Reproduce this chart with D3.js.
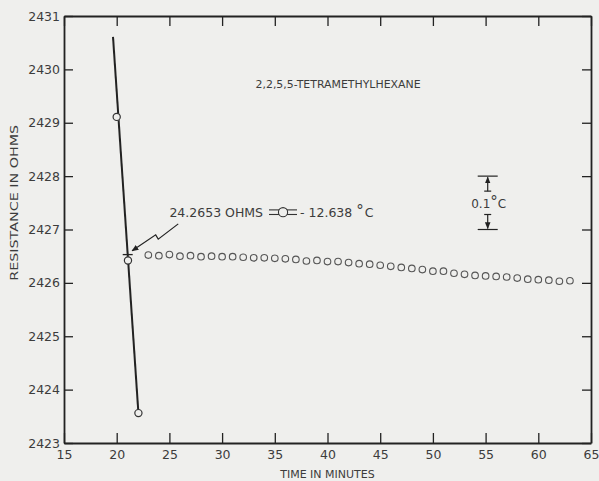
<!DOCTYPE html>
<html>
<head>
<meta charset="utf-8">
<script src="https://cdn.jsdelivr.net/npm/d3@7"></script>
<style>
  body { margin: 0; background: #efefed; }
  text { font-family: "DejaVu Sans", sans-serif; fill: #3c3c3c; }
</style>
</head>
<body>
<div id="chart"></div>
<script>
// axis ticks
var xTicks = [15, 20, 25, 30, 35, 40, 45, 50, 55, 60, 65];
var yTicks = [2423, 2424, 2425, 2426, 2427, 2428, 2429, 2430, 2431];
var yTickLabels = ["2423", "2424", "2425", "2426", "2427", "2428", "2429", "2430", "2431"];

// steep cooling line and its three readings
var lineTimes = [19.65, 22.06];
var lineRes = [2430.61, 2423.56];
var openTimes = [20.0, 21.07, 22.06];
var openRes = [2429.11, 2426.42, 2423.56];

// plateau readings, one a minute
var driftTimes = [23, 24, 25, 26, 27, 28, 29, 30, 31, 32, 33, 34, 35, 36, 37, 38, 39, 40, 41, 42,
                  43, 44, 45, 46, 47, 48, 49, 50, 51, 52, 53, 54, 55, 56, 57, 58, 59, 60, 61, 62, 63];
var driftRes = [2426.52, 2426.51, 2426.53, 2426.50, 2426.51, 2426.49, 2426.50, 2426.49, 2426.49, 2426.48,
                2426.47, 2426.47, 2426.46, 2426.45, 2426.44, 2426.41, 2426.42, 2426.40, 2426.40, 2426.38,
                2426.36, 2426.35, 2426.33, 2426.31, 2426.29, 2426.27, 2426.25, 2426.22, 2426.22, 2426.18,
                2426.16, 2426.14, 2426.13, 2426.12, 2426.11, 2426.09, 2426.07, 2426.06, 2426.05, 2426.03,
                2426.04];

// freezing point mark and its note
var markRes = 2426.53;
var noteText = "24.2653 OHMS";
var noteTemp = "- 12.638";
var noteAt = [25.0, 2427.24];
var arrowTimes = [25.84, 23.94, 23.70, 21.46];
var arrowRes = [2427.105, 2426.82, 2426.90, 2426.60];

// 0.1 degC scale bar
var barTime = 55.2;
var barRes = [2427, 2428];

var title = "2,2,5,5-TETRAMETHYLHEXANE";
var titleAt = [41.0, 2429.66];

var width = 599, height = 481;
var margin = {top: 16, right: 8, bottom: 38, left: 64};
var ink = "#222";

var svg = d3.select("#chart").append("svg")
    .attr("width", width)
    .attr("height", height);

svg.append("defs").append("marker")
    .attr("id", "head")
    .attr("viewBox", "0 0 10 10")
    .attr("refX", 9).attr("refY", 5)
    .attr("markerWidth", 7).attr("markerHeight", 7)
    .attr("markerUnits", "userSpaceOnUse")
    .attr("orient", "auto")
  .append("path")
    .attr("d", "M0,1 L10,5 L0,9 Z")
    .attr("fill", ink);

var x = d3.scaleLinear().domain([15, 65]).range([margin.left, width - margin.right]);
var y = d3.scaleLinear().domain([2423, 2431]).range([height - margin.bottom, margin.top]);

var g = svg.append("g");

// axes, ticks pointing inward on all four sides
g.append("g")
    .attr("transform", "translate(0," + y(2423) + ")")
    .call(d3.axisBottom(x).tickValues(xTicks).tickSizeInner(-10).tickSizeOuter(0).tickPadding(7))
    .call(a => a.selectAll("text").style("font-size", "12.5px").attr("fill", "#3c3c3c"));
g.append("g")
    .attr("transform", "translate(0," + y(2431) + ")")
    .call(d3.axisTop(x).tickValues(xTicks).tickSizeInner(-10).tickSizeOuter(0).tickFormat(""));
g.append("g")
    .attr("transform", "translate(" + x(15) + ",0)")
    .call(d3.axisLeft(y).tickValues(yTicks).tickSizeInner(-9).tickSizeOuter(0).tickPadding(4)
        .tickFormat((d, i) => yTickLabels[i]))
    .call(a => a.selectAll("text").style("font-size", "12.5px").attr("fill", "#3c3c3c"));
g.append("g")
    .attr("transform", "translate(" + x(65) + ",0)")
    .call(d3.axisRight(y).tickValues(yTicks).tickSizeInner(-9).tickSizeOuter(0).tickFormat(""));

g.selectAll(".domain").attr("stroke", ink).attr("stroke-width", 1.8);
g.selectAll(".tick line").attr("stroke", ink).attr("stroke-width", 1.3);
g.selectAll("text").attr("font-family", "DejaVu Sans, sans-serif");

// axis titles
svg.append("text")
    .attr("x", x(40))
    .attr("y", height - 3)
    .attr("text-anchor", "middle")
    .style("font-size", "11px")
    .text("TIME IN MINUTES");

svg.append("text")
    .attr("transform", "translate(18," + y(2427.5) + ") rotate(-90)")
    .attr("text-anchor", "middle")
    .attr("textLength", 156)
    .attr("lengthAdjust", "spacingAndGlyphs")
    .style("font-size", "11px")
    .text("RESISTANCE IN OHMS");

svg.append("text")
    .attr("x", x(titleAt[0]))
    .attr("y", y(titleAt[1]))
    .attr("text-anchor", "middle")
    .attr("textLength", 165)
    .attr("lengthAdjust", "spacingAndGlyphs")
    .style("font-size", "11px")
    .text(title);

// steep line
var line = d3.line()
    .x(d => x(d[0]))
    .y(d => y(d[1]));

svg.append("path")
    .datum(lineTimes.map((t, i) => [t, lineRes[i]]))
    .attr("d", line)
    .attr("fill", "none")
    .attr("stroke", ink)
    .attr("stroke-width", 2);

// short mark across the line at the freezing value
var markT = lineTimes[0] + (lineTimes[1] - lineTimes[0]) * (lineRes[0] - markRes) / (lineRes[0] - lineRes[1]);
svg.append("line")
    .attr("x1", x(markT) - 5).attr("x2", x(markT) + 5)
    .attr("y1", y(markRes)).attr("y2", y(markRes))
    .attr("stroke", ink)
    .attr("stroke-width", 1.3);

svg.selectAll(".open")
    .data(openTimes)
    .enter().append("circle")
    .attr("class", "open")
    .attr("cx", d => x(d))
    .attr("cy", (d, i) => y(openRes[i]))
    .attr("r", 3.6)
    .attr("fill", "#efefed")
    .attr("stroke", "#333")
    .attr("stroke-width", 1.2);

svg.selectAll(".drift")
    .data(driftTimes)
    .enter().append("circle")
    .attr("class", "drift")
    .attr("cx", d => x(d))
    .attr("cy", (d, i) => y(driftRes[i]))
    .attr("r", 3.3)
    .attr("fill", "none")
    .attr("stroke", "#555")
    .attr("stroke-width", 1.1);

// note with arrow
svg.append("path")
    .datum(arrowTimes.map((t, i) => [t, arrowRes[i]]))
    .attr("d", line)
    .attr("fill", "none")
    .attr("stroke", ink)
    .attr("stroke-width", 1.2)
    .attr("marker-end", "url(#head)");

var nx = x(noteAt[0]), ny = y(noteAt[1]);
var note = svg.append("text")
    .attr("x", nx).attr("y", ny)
    .style("font-size", "12.5px")
    .text(noteText);
var nw = note.node().getComputedTextLength();

var sx = nx + nw + 6, sy = ny - 4.5;
[-2.3, 2.3].forEach(off => {
  svg.append("line")
      .attr("x1", sx).attr("x2", sx + 28)
      .attr("y1", sy + off).attr("y2", sy + off)
      .attr("stroke", "#333").attr("stroke-width", 1.1);
});
svg.append("circle")
    .attr("cx", sx + 14).attr("cy", sy)
    .attr("r", 4.6)
    .attr("fill", "#efefed")
    .attr("stroke", "#333").attr("stroke-width", 1.1);

var temp = svg.append("text")
    .attr("x", sx + 31).attr("y", ny)
    .style("font-size", "12.5px")
    .text(noteTemp + "  ");
temp.append("tspan").attr("dy", -1).style("font-size", "15px").text("°");
temp.append("tspan").attr("dy", 1).attr("dx", 1).text("C");

// scale bar
var bx = x(barTime);
barRes.forEach(r => {
  svg.append("line")
      .attr("x1", bx - 10).attr("x2", bx + 10)
      .attr("y1", y(r)).attr("y2", y(r))
      .attr("stroke", ink).attr("stroke-width", 1.2);
});
var yTop = y(barRes[1]), yBot = y(barRes[0]);
svg.append("line")
    .attr("x1", bx).attr("x2", bx)
    .attr("y1", yTop + 15).attr("y2", yTop + 1)
    .attr("stroke", ink).attr("stroke-width", 1.2)
    .attr("marker-end", "url(#head)");
svg.append("line")
    .attr("x1", bx).attr("x2", bx)
    .attr("y1", yBot - 15).attr("y2", yBot - 1)
    .attr("stroke", ink).attr("stroke-width", 1.2)
    .attr("marker-end", "url(#head)");
[yTop + 15, yBot - 15].forEach(yy => {
  svg.append("line")
      .attr("x1", bx - 3.5).attr("x2", bx + 3.5)
      .attr("y1", yy).attr("y2", yy)
      .attr("stroke", ink).attr("stroke-width", 1.2);
});
var bl = svg.append("text")
    .attr("x", bx + 1).attr("y", (yTop + yBot) / 2 + 5)
    .attr("text-anchor", "middle")
    .style("font-size", "12px")
    .text("0.1");
bl.append("tspan").attr("dy", -1).style("font-size", "15px").text("°");
bl.append("tspan").attr("dy", 1).text("C");
</script>
</body>
</html>
